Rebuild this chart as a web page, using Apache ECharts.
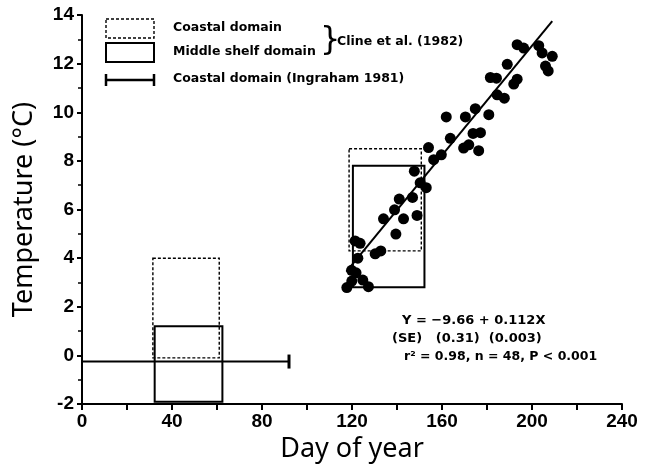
<!DOCTYPE html>
<html>
<head>
<meta charset="utf-8">
<script src="https://cdn.jsdelivr.net/npm/echarts@6/dist/echarts.min.js"></script>
<style>
html,body{margin:0;padding:0;background:#fff;}
#chart{width:645px;height:468px;}
</style>
</head>
<body>
<div id="chart"></div>
<script>
// ---- data ----
const obsDay = [154,159.7,156.3,147.7,150.3,153,141,146.9,138.9,148.9,134,142.9,139.5,121.4,123.6,132.8,130.3,122.6,121.8,119.9,124.8,117.7,127.3,119.8,
  193.4,196.3,203,204.5,209,206,207.2,189,181.5,184.2,193.4,191.9,184.5,187.7,174.8,170.4,161.9,180.8,173.8,177.1,171.9,169.6,176.3,163.7];
const obsTemp = [8.55,8.25,8.05,7.58,7.1,6.9,6.43,6.5,5.99,5.76,5.62,5.62,4.99,4.71,4.61,4.3,4.18,4.0,3.4,3.06,3.1,2.79,2.83,3.5,
  12.78,12.64,12.74,12.44,12.3,11.9,11.7,11.97,11.43,11.4,11.36,11.16,10.72,10.58,10.15,9.81,9.81,9.9,9.13,9.16,8.66,8.53,8.42,8.93];

// Cline et al. (1982) boxes: [dayStart, dayEnd, tempLow, tempHigh]
const coastalDayStart = [31.5, 118.7];
const coastalDayEnd   = [61, 150.8];
const coastalTempLow  = [-0.1, 4.3];
const coastalTempHigh = [4.0, 8.5];

const shelfDayStart = [32.3, 120.4];
const shelfDayEnd   = [62.4, 152.2];
const shelfTempLow  = [-1.9, 2.8];
const shelfTempHigh = [1.2, 7.8];

// Ingraham (1981) coastal range
const ingrahamDays = [0, 92];
const ingrahamTemp = -0.25;

// regression line endpoints
const fitDays  = [117.5, 209];
const fitTemps = [3.45, 13.75];

const xTicks = [0, 240, 40];   // min, max, interval
const yTicks = [-2, 14, 2];

// ---- build ----
const boxData = (s, e, lo, hi) => s.map((v, i) => [v, e[i], lo[i], hi[i]]);
const fontTick = 'Liberation Sans';

function boxRender(dashed) {
  return function (params, api) {
    const p0 = api.coord([api.value(0), api.value(3)]);
    const p1 = api.coord([api.value(1), api.value(2)]);
    return {
      type: 'rect',
      shape: { x: p0[0], y: p0[1], width: p1[0] - p0[0], height: p1[1] - p0[1] },
      style: { fill: 'none', stroke: '#000', lineWidth: dashed ? 1.4 : 2, lineDash: dashed ? [3, 2] : null }
    };
  };
}

const chart = echarts.init(document.getElementById('chart'), null, { renderer: 'canvas' });
chart.setOption({
  animation: false,
  backgroundColor: '#fff',
  grid: { left: 82, right: 23, top: 15, bottom: 58, containLabel: false },
  xAxis: {
    type: 'value', min: xTicks[0], max: xTicks[1], interval: xTicks[2],
    name: 'Day of year', nameLocation: 'middle', nameGap: 26,
    nameTextStyle: { fontFamily: 'Noto Sans', fontSize: 27, color: '#000' },
    axisLine: { onZero: false, lineStyle: { color: '#000', width: 2 } },
    axisTick: { show: true, length: 6, lineStyle: { color: '#000', width: 2 } },
    minorTick: { show: true, splitNumber: 2, length: 6, lineStyle: { color: '#000', width: 2 } },
    splitLine: { show: false },
    axisLabel: { fontFamily: fontTick, fontWeight: 'bold', fontSize: 19, color: '#000', margin: 8 }
  },
  yAxis: {
    type: 'value', min: yTicks[0], max: yTicks[1], interval: yTicks[2],
    name: 'Temperature (°C)', nameLocation: 'middle', nameGap: 44,
    nameTextStyle: { fontFamily: 'Noto Sans', fontSize: 27, color: '#000' },
    axisLine: { onZero: false, lineStyle: { color: '#000', width: 2 } },
    axisTick: { show: true, length: 5, lineStyle: { color: '#000', width: 2 } },
    minorTick: { show: true, splitNumber: 2, length: 4, lineStyle: { color: '#000', width: 1.5 } },
    splitLine: { show: false },
    axisLabel: { fontFamily: fontTick, fontWeight: 'bold', fontSize: 19, color: '#000', margin: 8 }
  },
  series: [
    {
      name: 'Coastal domain (Cline)', type: 'custom', renderItem: boxRender(true),
      data: boxData(coastalDayStart, coastalDayEnd, coastalTempLow, coastalTempHigh),
      encode: { x: [0, 1], y: [2, 3] }, clip: false, z: 3
    },
    {
      name: 'Middle shelf domain (Cline)', type: 'custom', renderItem: boxRender(false),
      data: boxData(shelfDayStart, shelfDayEnd, shelfTempLow, shelfTempHigh),
      encode: { x: [0, 1], y: [2, 3] }, clip: false, z: 3
    },
    {
      name: 'Coastal domain (Ingraham)', type: 'custom', clip: false, z: 4,
      data: [[ingrahamDays[0], ingrahamDays[1], ingrahamTemp]],
      encode: { x: [0, 1], y: 2 },
      renderItem: function (params, api) {
        const a = api.coord([api.value(0), api.value(2)]);
        const b = api.coord([api.value(1), api.value(2)]);
        return {
          type: 'group', children: [
            { type: 'line', shape: { x1: a[0], y1: a[1], x2: b[0], y2: b[1] }, style: { stroke: '#000', lineWidth: 2 } },
            { type: 'line', shape: { x1: b[0], y1: b[1] - 7, x2: b[0], y2: b[1] + 7 }, style: { stroke: '#000', lineWidth: 3 } }
          ]
        };
      }
    },
    {
      name: 'fit', type: 'line', data: fitDays.map((d, i) => [d, fitTemps[i]]),
      symbol: 'none', lineStyle: { color: '#000', width: 2 }, z: 5
    },
    {
      name: 'obs', type: 'scatter', data: obsDay.map((d, i) => [d, obsTemp[i]]),
      symbol: 'circle', symbolSize: 11, itemStyle: { color: '#000', opacity: 1 }, z: 6
    }
  ],
  graphic: [
    // legend
    { type: 'rect', shape: { x: 106, y: 19, width: 48, height: 19 }, style: { fill: 'none', stroke: '#000', lineWidth: 1.4, lineDash: [3, 2] } },
    { type: 'rect', shape: { x: 106, y: 43, width: 48, height: 19 }, style: { fill: 'none', stroke: '#000', lineWidth: 2 } },
    { type: 'line', shape: { x1: 106, y1: 80, x2: 154, y2: 80 }, style: { stroke: '#000', lineWidth: 2.5 } },
    { type: 'line', shape: { x1: 106, y1: 74, x2: 106, y2: 86 }, style: { stroke: '#000', lineWidth: 2.5 } },
    { type: 'line', shape: { x1: 154, y1: 74, x2: 154, y2: 86 }, style: { stroke: '#000', lineWidth: 2.5 } },
    { type: 'text', left: 173, top: 21, style: { text: 'Coastal domain', font: 'bold 12.5px "DejaVu Sans"', fill: '#000' } },
    { type: 'text', left: 173, top: 45, style: { text: 'Middle shelf domain', font: 'bold 12.5px "DejaVu Sans"', fill: '#000' } },
    { type: 'text', left: 173, top: 72, style: { text: 'Coastal domain (Ingraham 1981)', font: 'bold 12.5px "DejaVu Sans"', fill: '#000' } },
    { type: 'text', left: 320, top: 25, style: { text: '}', font: '32px "DejaVu Sans"', fill: '#000' } },
    { type: 'text', left: 337, top: 35, style: { text: 'Cline et al. (1982)', font: 'bold 12.5px "DejaVu Sans"', fill: '#000' } },
    // regression statistics
    { type: 'text', left: 402, top: 314, style: { text: 'Y = \u22129.66 + 0.112X', font: 'bold 13px "DejaVu Sans"', fill: '#000' } },
    { type: 'text', left: 392, top: 332, style: { text: '(SE)   (0.31)  (0.003)', font: 'bold 13px "DejaVu Sans"', fill: '#000' } },
    { type: 'text', left: 404, top: 350, style: { text: 'r\u00B2 = 0.98, n = 48, P < 0.001', font: 'bold 12.5px "DejaVu Sans"', fill: '#000' } }
  ]
});
</script>
</body>
</html>
